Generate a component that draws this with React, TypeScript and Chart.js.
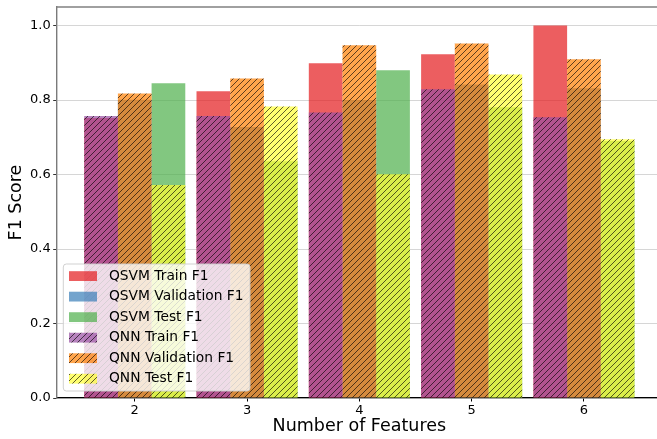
import React, { useEffect, useRef } from "react";
import { Chart, registerables } from "chart.js";

Chart.register(...registerables);

// ---- data ----
const categories = [2, 3, 4, 5, 6];
const qsvmTrain = [0.752, 0.824, 0.899, 0.923, 1.0];
const qsvmVal = [0.801, 0.728, 0.8, 0.842, 0.832];
const qsvmTest = [0.845, 0.636, 0.88, 0.781, 0.69];
const qnnTrain = [0.757, 0.757, 0.767, 0.829, 0.754];
const qnnVal = [0.818, 0.858, 0.947, 0.952, 0.91];
const qnnTest = [0.572, 0.783, 0.601, 0.869, 0.695];
const yTickValues = [0, 0.2, 0.4, 0.6, 0.8, 1.0];
const seriesLabels = [
  "QSVM Train F1",
  "QSVM Validation F1",
  "QSVM Test F1",
  "QNN Train F1",
  "QNN Validation F1",
  "QNN Test F1",
];
const xTitle = "Number of Features";
const yTitle = "F1 Score";

const FONT = "'DejaVu Sans', 'Liberation Sans', sans-serif";
const W = 672;
const H = 439;

const set1 = {
  red: "rgba(228,26,28,0.7)",
  blue: "rgba(55,126,184,0.7)",
  green: "rgba(77,175,74,0.7)",
  purple: "rgba(152,78,163,0.7)",
  orange: "rgba(255,127,0,0.7)",
  yellow: "rgba(255,255,51,0.7)",
};

function makeHatch(fill: string): CanvasPattern {
  const s = 6;
  const c = document.createElement("canvas");
  c.width = s;
  c.height = s;
  const g = c.getContext("2d")!;
  g.fillStyle = fill;
  g.fillRect(0, 0, s, s);
  g.strokeStyle = "rgba(0,0,0,0.7)";
  g.lineWidth = 0.9;
  g.beginPath();
  for (const k of [-1, 0, 1]) {
    g.moveTo(k * s, s);
    g.lineTo(k * s + s, 0);
  }
  g.stroke();
  return g.createPattern(c, "repeat")!;
}

export default function App() {
  const ref = useRef<HTMLCanvasElement | null>(null);

  useEffect(() => {
    if (!ref.current) return;
    const fills: (string | CanvasPattern)[] = [
      set1.red,
      set1.blue,
      set1.green,
      makeHatch(set1.purple),
      makeHatch(set1.orange),
      makeHatch(set1.yellow),
    ];
    const values = [qsvmTrain, qsvmVal, qsvmTest, qnnTrain, qnnVal, qnnTest];
    const stacks = ["train", "val", "test", "train", "val", "test"];

    const datasets = values.map((vals, i) => ({
      type: "bar" as const,
      label: seriesLabels[i],
      data: categories.map((x, j) => ({ x, y: vals[j] })),
      backgroundColor: fills[i],
      borderWidth: 0,
      order: i < 3 ? 1 : 0,
      stack: stacks[i],
      categoryPercentage: 0.9,
      barPercentage: 1.0,
    }));

    const spinePlugin = {
      id: "spines",
      afterDraw(chart: any) {
        const { ctx, chartArea } = chart;
        ctx.save();
        ctx.strokeStyle = "#808080";
        ctx.lineWidth = 1.5;
        ctx.beginPath();
        ctx.moveTo(chartArea.left - 0.5, chartArea.top);
        ctx.lineTo(chartArea.right, chartArea.top);
        ctx.stroke();
        ctx.restore();
      },
    };

    const legendPlugin = {
      id: "customLegend",
      afterDraw(chart: any) {
        const { ctx } = chart;
        const bx = 63.3, by = 264, bw = 186.7, bh = 127, r = 3;
        ctx.save();
        ctx.beginPath();
        ctx.moveTo(bx + r, by);
        ctx.lineTo(bx + bw - r, by);
        ctx.quadraticCurveTo(bx + bw, by, bx + bw, by + r);
        ctx.lineTo(bx + bw, by + bh - r);
        ctx.quadraticCurveTo(bx + bw, by + bh, bx + bw - r, by + bh);
        ctx.lineTo(bx + r, by + bh);
        ctx.quadraticCurveTo(bx, by + bh, bx, by + bh - r);
        ctx.lineTo(bx, by + r);
        ctx.quadraticCurveTo(bx, by, bx + r, by);
        ctx.closePath();
        ctx.fillStyle = "rgba(255,255,255,0.8)";
        ctx.fill();
        ctx.strokeStyle = "rgba(204,204,204,0.9)";
        ctx.lineWidth = 1;
        ctx.stroke();
        const ds = chart.data.datasets;
        ctx.font = `13.8px ${FONT}`;
        ctx.textBaseline = "middle";
        ctx.textAlign = "left";
        for (let i = 0; i < ds.length; i++) {
          const cy = 276 + i * 20.52;
          ctx.fillStyle = ds[i].backgroundColor;
          ctx.fillRect(69, cy - 4.8, 28, 9.8);
          ctx.fillStyle = "#000";
          ctx.fillText(ds[i].label, 109, cy);
        }
        ctx.restore();
      },
    };

    const chart = new Chart(ref.current, {
      type: "bar",
      data: { datasets: datasets as any },
      plugins: [spinePlugin, legendPlugin],
      options: {
        responsive: false,
        animation: false,
        devicePixelRatio: 1,
        layout: { padding: { top: 7, right: W - 662, bottom: 0, left: 0 } },
        plugins: {
          legend: { display: false },
          tooltip: { enabled: false },
          title: { display: false },
        },
        scales: {
          x: {
            type: "linear",
            offset: false,
            min: 1.305,
            max: 6.695,
            afterBuildTicks: (s: any) => {
              s.ticks = categories.map((v) => ({ value: v }));
            },
            afterFit: (s: any) => {
              s.height = H - 398;
              s.paddingLeft = 0;
              s.paddingRight = 0;
            },
            ticks: {
              color: "#000",
              font: { family: FONT, size: 13 },
              padding: 1,
              maxRotation: 0,
              autoSkip: false,
              callback: (v: any) => String(v),
            },
            grid: {
              offset: false,
              drawOnChartArea: false,
              drawTicks: true,
              tickLength: 3.5,
              tickColor: "#000",
              tickWidth: 1,
            },
            border: { display: true, color: "#000", width: 1.2 },
            title: {
              display: true,
              text: xTitle,
              color: "#000",
              font: { family: FONT, size: 17.5 },
              padding: { top: 0, bottom: 2 },
            },
          },
          y: {
            type: "linear",
            min: 0,
            max: 1.05,
            stacked: false,
            afterBuildTicks: (s: any) => {
              s.ticks = yTickValues.map((v) => ({ value: v }));
            },
            afterFit: (s: any) => {
              s.width = 56.7;
              s.paddingTop = 0;
              s.paddingBottom = 0;
            },
            ticks: {
              color: "#000",
              font: { family: FONT, size: 13 },
              padding: 2.5,
              callback: (v: any) => Number(v).toFixed(1),
            },
            grid: {
              color: "rgba(190,190,190,0.8)",
              lineWidth: 0.8,
              borderDash: [2.5, 1.5],
              drawTicks: true,
              tickLength: 3.5,
              tickColor: "#333",
              tickWidth: 1,
              tickBorderDash: [],
            } as any,
            border: { display: true, color: "#7a7a7a", width: 1.4 },
            title: {
              display: true,
              text: yTitle,
              color: "#000",
              font: { family: FONT, size: 17.5 },
              padding: { top: 6, bottom: 0 },
            },
          },
        },
      } as any,
    });
    return () => chart.destroy();
  }, []);

  return (
    <div
      style={{
        position: "fixed",
        left: 0,
        top: 0,
        width: 657,
        height: H,
        overflow: "hidden",
        background: "#fff",
      }}
    >
      <canvas ref={ref} width={W} height={H} style={{ width: W, height: H, display: "block" }} />
    </div>
  );
}
